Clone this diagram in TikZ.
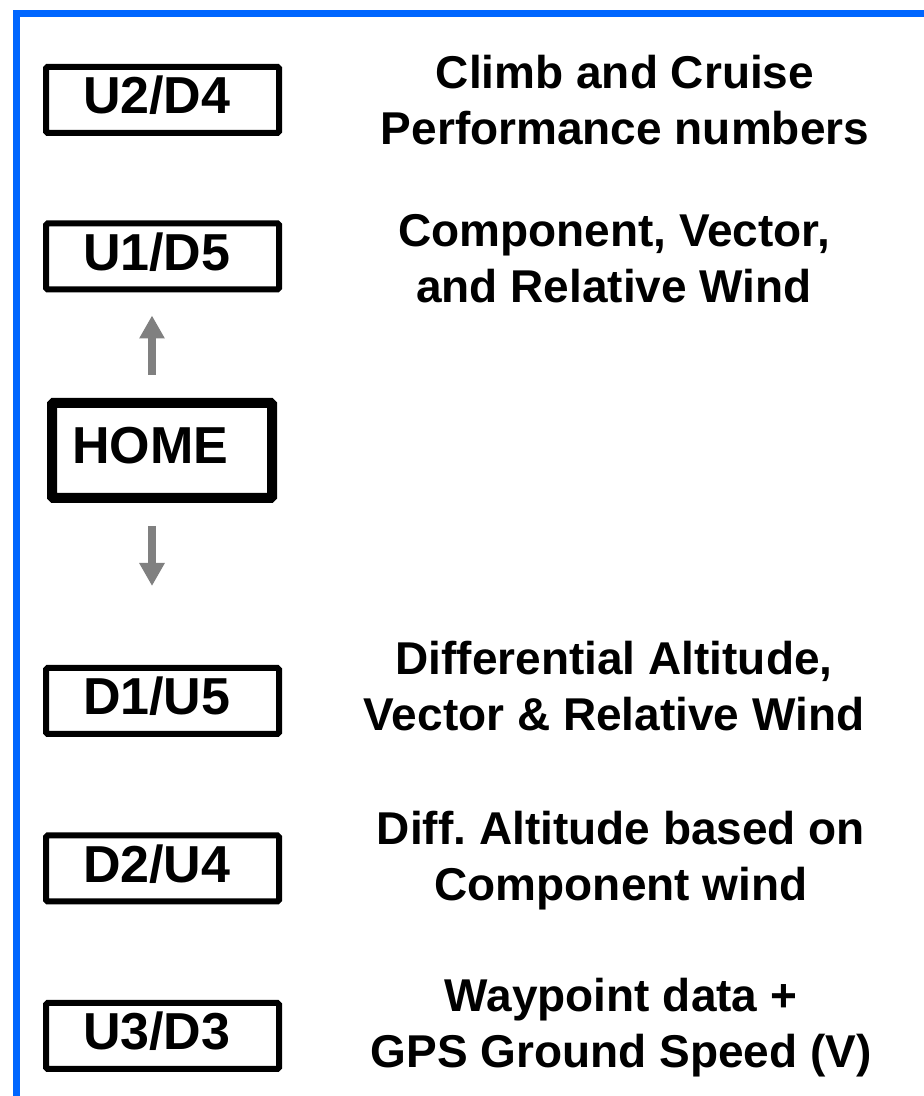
\documentclass[tikz,border=0pt]{standalone}
\usepackage{xcolor}
\usepackage{fontspec}
\setmainfont{Liberation Sans}
\usepackage{tikz}
\usetikzlibrary{positioning,arrows.meta}

\definecolor{frameblue}{RGB}{0,102,255}
\definecolor{arrowgray}{RGB}{128,128,128}
\newcommand{\tagfont}{\fontsize{52}{60}\selectfont\bfseries}
\newcommand{\notefont}{\fontsize{46}{56}\selectfont\bfseries}

\tikzset{
	modebox/.style={draw, line width=6pt, rounded corners=1.5pt, minimum width=233pt, minimum height=66pt,
		inner xsep=37pt, inner ysep=4pt, text width=159pt, align=left, text depth=10pt, font=\tagfont},
	homebox/.style={modebox, line width=10pt, minimum width=220pt, minimum height=95pt,
		inner xsep=20pt, text width=180pt},
	note/.style={align=center, font=\notefont},
	pagearrow/.style={draw=arrowgray, line width=8pt, -{Triangle[width=24pt, length=23pt]}}
}

\begin{document}
\begin{tikzpicture}[x=1pt, y=1pt]
	\useasboundingbox (0,0) rectangle (924,1096);
	\draw[frameblue, line width=7.3pt, line join=miter, line cap=butt] (16.35,0) -- (16.35,1082.35) -- (924,1082.35);

	\node[modebox] (u2d4) at (162.5,996) {U2/D4};
	\node[modebox] (u1d5) at (162.5,839.5) {U1/D5};
	\node[homebox] (home) at (162,645.5) {HOME};
	\node[modebox] (d1u5) at (162.5,395) {D1/U5};
	\node[modebox] (d2u4) at (162.5,227.5) {D2/U4};
	\node[modebox] (u3d3) at (162.5,60) {U3/D3};

	\node[note] (climb) at (625,996) {Climb and Cruise\\Performance numbers};
	\node[note] (compwind) at (614,837) {Component, Vector,\\and Relative Wind};
	\node[note] (diffalt) at (614,410) {Differential Altitude,\\Vector \& Relative Wind};
	\node[note] (diffcomp) at (621,235) {Diff.\ Altitude based on\\Component wind};
	\node[note] (waypoint) at (621,68) {Waypoint data +\\GPS Ground Speed (V)};

	\draw[pagearrow, shorten <=23pt, shorten >=23pt] ([xshift=-10pt]home.north) -- ([xshift=-10.5pt]u1d5.south);
	\draw[pagearrow, shorten <=23pt, shorten >=79pt] ([xshift=-10pt]home.south) -- ([xshift=-10.5pt]d1u5.north);
\end{tikzpicture}
\end{document}
